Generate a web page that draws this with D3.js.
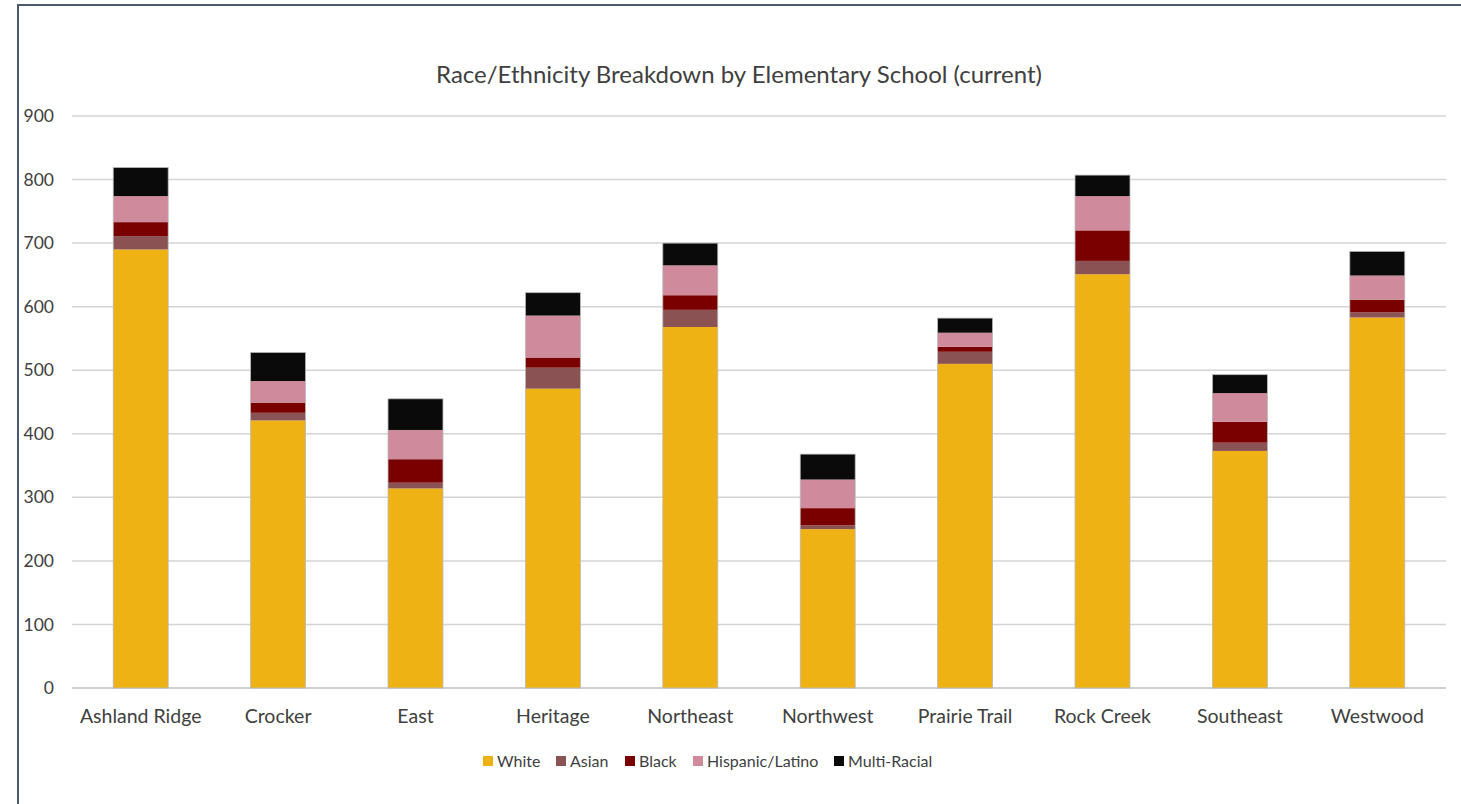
<!DOCTYPE html>
<html>
<head>
<meta charset="utf-8">
<script src="https://cdn.jsdelivr.net/npm/d3@7"></script>
<style>
  body { margin: 0; background: #fff; }
  text { font-family: Lato, "Open Sans", sans-serif; fill: #404040; }
</style>
</head>
<body>
<script>
const schools = ["Ashland Ridge","Crocker","East","Heritage","Northeast","Northwest","Prairie Trail","Rock Creek","Southeast","Westwood"];
const groups = ["White","Asian","Black","Hispanic/Latino","Multi-Racial"];
const white    = [690, 421, 314, 471, 568, 250, 510, 651, 373, 583];
const asian    = [ 21,  12,   9,  33,  27,   6,  19,  21,  13,   8];
const black    = [ 22,  16,  37,  16,  23,  27,   8,  48,  33,  20];
const hispanic = [ 41,  34,  46,  66,  47,  45,  22,  54,  45,  38];
const multi    = [ 45,  45,  49,  36,  35,  40,  23,  33,  29,  38];
const yTicks = [0,100,200,300,400,500,600,700,800,900];
const colors = ["#efb214","#8a5252","#7a0000","#cf8a9c","#0a0a0a"];

function main(){
    const width = 1461;
    const height = 804;
    const margin = {left: 72, right: 15, top: 116, bottom: 116};

    const svg = d3.select("body").append("svg")
        .attr("width", width)
        .attr("height", height);

    // outer frame
    svg.append("rect")
        .attr("x", 18).attr("y", 5)
        .attr("width", width).attr("height", height)
        .attr("fill", "none")
        .attr("stroke", "#4b5a6e")
        .attr("stroke-width", 2);

    const data = schools.map(function(s, i){
        return {school: s, "White": white[i], "Asian": asian[i], "Black": black[i],
                "Hispanic/Latino": hispanic[i], "Multi-Racial": multi[i]};
    });

    const x = d3.scaleBand()
        .domain(schools)
        .range([margin.left, width - margin.right])
        .paddingInner(0.6)
        .paddingOuter(0.3);

    const y = d3.scaleLinear()
        .domain([0, 900])
        .range([height - margin.bottom, margin.top]);

    const color = d3.scaleOrdinal().domain(groups).range(colors);

    // gridlines
    svg.append("g")
        .selectAll("line")
        .data(yTicks)
        .enter().append("line")
        .attr("x1", margin.left)
        .attr("x2", width - margin.right)
        .attr("y1", function(d){ return y(d); })
        .attr("y2", function(d){ return y(d); })
        .attr("stroke", function(d){ return d === 0 ? "#bfbfbf" : "#d4d4d4"; })
        .attr("stroke-width", 1.5);

    // y labels
    svg.append("g")
        .selectAll("text")
        .data(yTicks)
        .enter().append("text")
        .attr("x", 54)
        .attr("y", function(d){ return y(d); })
        .attr("dy", "0.35em")
        .attr("text-anchor", "end")
        .style("font-size", "17.5px")
        .text(function(d){ return d; });

    const stacked = d3.stack().keys(groups)(data);

    svg.append("g")
        .selectAll("g")
        .data(stacked)
        .enter().append("g")
        .attr("fill", function(d){ return color(d.key); })
        .selectAll("rect")
        .data(function(d){ return d; })
        .enter().append("rect")
        .attr("x", function(d){ return x(d.data.school); })
        .attr("y", function(d){ return y(d[1]); })
        .attr("width", x.bandwidth())
        .attr("height", function(d){ return y(d[0]) - y(d[1]); });

    // thin outline round each bar
    const top = stacked[stacked.length - 1];
    svg.append("g")
        .selectAll("rect")
        .data(top)
        .enter().append("rect")
        .attr("x", function(d){ return x(d.data.school); })
        .attr("y", function(d){ return y(d[1]); })
        .attr("width", x.bandwidth())
        .attr("height", function(d){ return y(0) - y(d[1]); })
        .attr("fill", "none")
        .attr("stroke", "#b8b8b8")
        .attr("stroke-width", 0.8);

    // x labels
    svg.append("g")
        .selectAll("text")
        .data(schools)
        .enter().append("text")
        .attr("x", function(d){ return x(d) + x.bandwidth()/2; })
        .attr("y", 723)
        .attr("text-anchor", "middle")
        .style("font-size", "19.5px")
        .text(function(d){ return d; });

    // title
    svg.append("text")
        .attr("x", 739)
        .attr("y", 83)
        .attr("text-anchor", "middle")
        .style("font-size", "24px")
        .text("Race/Ethnicity Breakdown by Elementary School (current)");

    // legend
    const legendX = [483, 556, 625, 693, 834];
    const legend = svg.append("g")
        .selectAll("g")
        .data(groups)
        .enter().append("g")
        .attr("transform", function(d, i){ return "translate(" + legendX[i] + ",756)"; });
    legend.append("rect")
        .attr("width", 10).attr("height", 10)
        .attr("fill", function(d){ return color(d); });
    legend.append("text")
        .attr("x", 14).attr("y", 5)
        .attr("dy", "0.35em")
        .style("font-size", "16px")
        .text(function(d){ return d; });
}
main();
</script>
</body>
</html>
